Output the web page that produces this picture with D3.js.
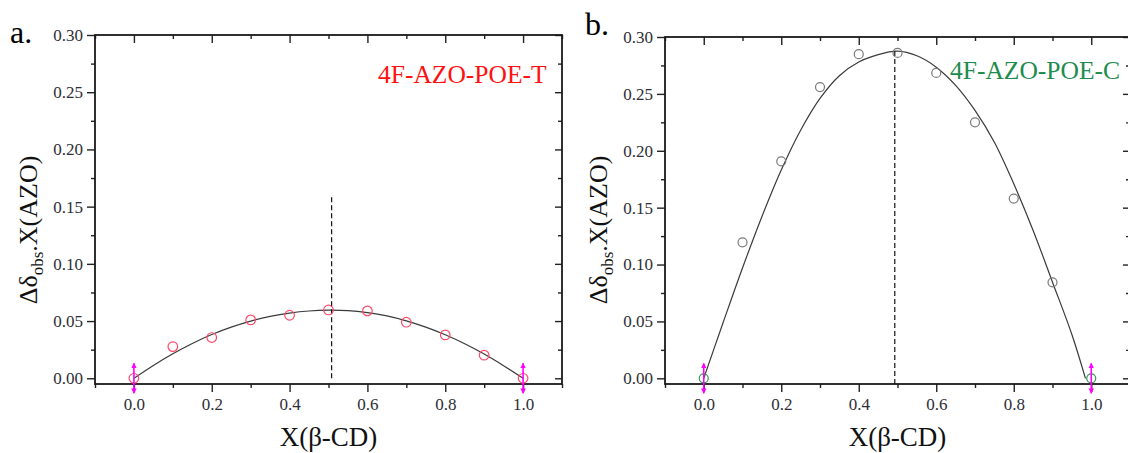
<!DOCTYPE html>
<html><head><meta charset="utf-8">
<script src="https://cdn.jsdelivr.net/npm/d3@7"></script>
<style>body{margin:0;background:#fff}</style>
</head><body><svg id="c" width="1128" height="453"></svg>
<script>
// ---- data ----
const xTicks = [0.0, 0.2, 0.4, 0.6, 0.8, 1.0];
const xMinorTicks = [-0.1, 0.1, 0.3, 0.5, 0.7, 0.9, 1.1];
const yTicks = [0.00, 0.05, 0.10, 0.15, 0.20, 0.25, 0.30];
const yMinorTicks = [0.025, 0.075, 0.125, 0.175, 0.225, 0.275];

const xObs = [0.0, 0.1, 0.2, 0.3, 0.4, 0.5, 0.6, 0.7, 0.8, 0.9, 1.0];
const obsT = [0.0, 0.0277, 0.0356, 0.0510, 0.0551, 0.0597, 0.0589, 0.0490, 0.0379, 0.0202, 0.0];
const obsC = [0.0, 0.1195, 0.1907, 0.2560, 0.2849, 0.2860, 0.2684, 0.2250, 0.1580, 0.0844, 0.0];

const fitXT = [0, 0.05, 0.1, 0.15, 0.2, 0.25, 0.3, 0.35, 0.4, 0.45, 0.5, 0.55, 0.6, 0.65, 0.7, 0.75, 0.8, 0.85, 0.9, 0.95, 1.0];
const fitT  = [0, 0.0112, 0.0214, 0.0304, 0.0382, 0.0447, 0.0500, 0.0541, 0.0570, 0.0588, 0.0595, 0.0591, 0.0574, 0.0545, 0.0502, 0.0447, 0.0380, 0.0302, 0.0212, 0.0110, 0];
const fitXC = [0, 0.05, 0.1, 0.15, 0.2, 0.25, 0.3, 0.35, 0.4, 0.45, 0.5, 0.55, 0.6, 0.65, 0.7, 0.75, 0.8, 0.85, 0.9, 0.95, 0.985];
const fitC  = [0, 0.049, 0.097, 0.142, 0.183, 0.218, 0.246, 0.266, 0.278, 0.2845, 0.2875, 0.2835, 0.2735, 0.2575, 0.2355, 0.2075, 0.171, 0.130, 0.0845, 0.0385, 0];

const peakT = [0.508, 0.0, 0.160];   // x, y from, y to (dashed line)
const peakC = [0.493, -0.005, 0.2875];

const labelT = "4F-AZO-POE-T";
const labelC = "4F-AZO-POE-C";

// ---- drawing ----
const svg = d3.select("#c");
svg.append("rect").attr("width", 1128).attr("height", 453).attr("fill", "#fff");
const FONT = "'Liberation Serif','Times New Roman',serif";
const TICKC = "#2e2e36";

const defs = svg.append("defs");
defs.append("marker").attr("id", "ah").attr("viewBox", "0 0 10 10")
  .attr("refX", 9).attr("refY", 5).attr("markerWidth", 3.4).attr("markerHeight", 3.8)
  .attr("orient", "auto-start-reverse").attr("markerUnits", "strokeWidth")
  .append("path").attr("d", "M0,0 L10,5 L0,10 Z").attr("fill", "#ff00ff");

function panel(cfg) {
  const x = d3.scaleLinear().domain([-0.1, 1.1]).range([cfg.left, cfg.right]);
  const y = d3.scaleLinear().domain([-0.005, 0.30]).range([cfg.bottom, cfg.top]);
  const g = svg.append("g").attr("font-family", FONT);

  const styleAxis = sel => {
    sel.attr("font-family", FONT);
    sel.select(".domain").remove();
    sel.selectAll("line").attr("stroke", "#222").attr("stroke-width", 1.4);
    sel.selectAll("text").attr("font-family", FONT).attr("font-size", 17).attr("fill", TICKC);
  };
  // bottom
  g.append("g").attr("transform", `translate(0,${cfg.bottom})`)
    .call(d3.axisBottom(x).tickValues(xTicks).tickSize(8).tickPadding(6).tickFormat(d3.format(".1f"))).call(styleAxis);
  g.append("g").attr("transform", `translate(0,${cfg.bottom})`)
    .call(d3.axisBottom(x).tickValues(xMinorTicks).tickSize(4).tickFormat("")).call(styleAxis);
  // left
  g.append("g").attr("transform", `translate(${cfg.left},0)`)
    .call(d3.axisLeft(y).tickValues(yTicks).tickSize(8).tickPadding(4).tickFormat(d3.format(".2f"))).call(styleAxis);
  g.append("g").attr("transform", `translate(${cfg.left},0)`)
    .call(d3.axisLeft(y).tickValues(yMinorTicks).tickSize(4).tickFormat("")).call(styleAxis);
  // top (inward)
  g.append("g").attr("transform", `translate(0,${cfg.top})`)
    .call(d3.axisTop(x).tickValues(xTicks).tickSize(-8).tickFormat("")).call(styleAxis);
  g.append("g").attr("transform", `translate(0,${cfg.top})`)
    .call(d3.axisTop(x).tickValues(xMinorTicks).tickSize(-4).tickFormat("")).call(styleAxis);
  // right (inward)
  g.append("g").attr("transform", `translate(${cfg.right},0)`)
    .call(d3.axisRight(y).tickValues(yTicks).tickSize(-7).tickFormat("")).call(styleAxis);
  g.append("g").attr("transform", `translate(${cfg.right},0)`)
    .call(d3.axisRight(y).tickValues(yMinorTicks).tickSize(-4).tickFormat("")).call(styleAxis);

  // frame
  g.append("rect").attr("x", cfg.left).attr("y", cfg.top)
    .attr("width", cfg.right - cfg.left).attr("height", cfg.bottom - cfg.top)
    .attr("fill", "none").attr("stroke", "#1a1a1a").attr("stroke-width", 1.8);

  // fitted curve
  const line = d3.line().x(d => x(d[0])).y(d => y(d[1])).curve(d3.curveCatmullRom);
  g.append("path").datum(cfg.fitX.map((v, i) => [v, cfg.fitY[i]]))
    .attr("d", line).attr("fill", "none").attr("stroke", "#3a3a3a").attr("stroke-width", 1.2);

  // dashed line
  g.append("line").attr("x1", x(cfg.peak[0])).attr("x2", x(cfg.peak[0]))
    .attr("y1", y(cfg.peak[1])).attr("y2", y(cfg.peak[2]))
    .attr("stroke", "#111").attr("stroke-width", 1.2).attr("stroke-dasharray", "5,3");

  // points
  const pts = xObs.map((v, i) => [v, cfg.obs[i]]);
  g.selectAll("circle.p").data(pts).enter().append("circle")
    .attr("cx", d => x(d[0])).attr("cy", d => y(d[1])).attr("r", cfg.r)
    .attr("fill", "none").attr("stroke-width", 1.2)
    .attr("stroke", (d, i) => (i === 0 || i === pts.length - 1) ? cfg.endColor : cfg.ptColor);

  // magenta double arrows at endpoints
  [pts[0], pts[pts.length - 1]].forEach(d => {
    g.append("line").attr("x1", x(d[0])).attr("x2", x(d[0]))
      .attr("y1", y(d[1]) - 15).attr("y2", y(d[1]) + 15)
      .attr("stroke", "#ff00ff").attr("stroke-width", 1.6)
      .attr("marker-start", "url(#ah)").attr("marker-end", "url(#ah)");
  });

  // series label
  g.append("text").attr("x", cfg.labX).attr("y", cfg.labY)
    .attr("font-size", 25.5).attr("fill", cfg.labColor).text(cfg.label);

  // x-axis title
  g.append("text").attr("x", x(0.5)).attr("y", 446).attr("text-anchor", "middle")
    .attr("font-size", 27).attr("fill", "#111").text("X(β-CD)");

  // y-axis title
  const yt = g.append("text").attr("transform", `translate(${cfg.left - 58},230) rotate(-90)`)
    .attr("text-anchor", "middle").attr("font-size", 26).attr("fill", "#111");
  yt.append("tspan").text("Δδ");
  yt.append("tspan").attr("font-size", 17).attr("dy", 6).text("obs");
  yt.append("tspan").attr("dy", -6).text(".X(AZO)");

  // panel letter
  g.append("text").attr("x", cfg.letX).attr("y", cfg.letY)
    .attr("font-size", 32).attr("fill", "#000").text(cfg.letter);
}

panel({left: 95, right: 562, top: 35, bottom: 384, obs: obsT, fitX: fitXT, fitY: fitT, peak: peakT,
  ptColor: "#ff4a6a", endColor: "#ff4a6a", r: 4.8, label: labelT, labColor: "#ff1010",
  labX: 378, labY: 83, letter: "a.", letX: 10, letY: 43});
panel({left: 665, right: 1130, top: 37, bottom: 384, obs: obsC, fitX: fitXC, fitY: fitC, peak: peakC,
  ptColor: "#7a7a7a", endColor: "#2a9a50", r: 4.5, label: labelC, labColor: "#1e8c4e",
  labX: 950, labY: 79, letter: "b.", letX: 585, letY: 35});
</script></body></html>
